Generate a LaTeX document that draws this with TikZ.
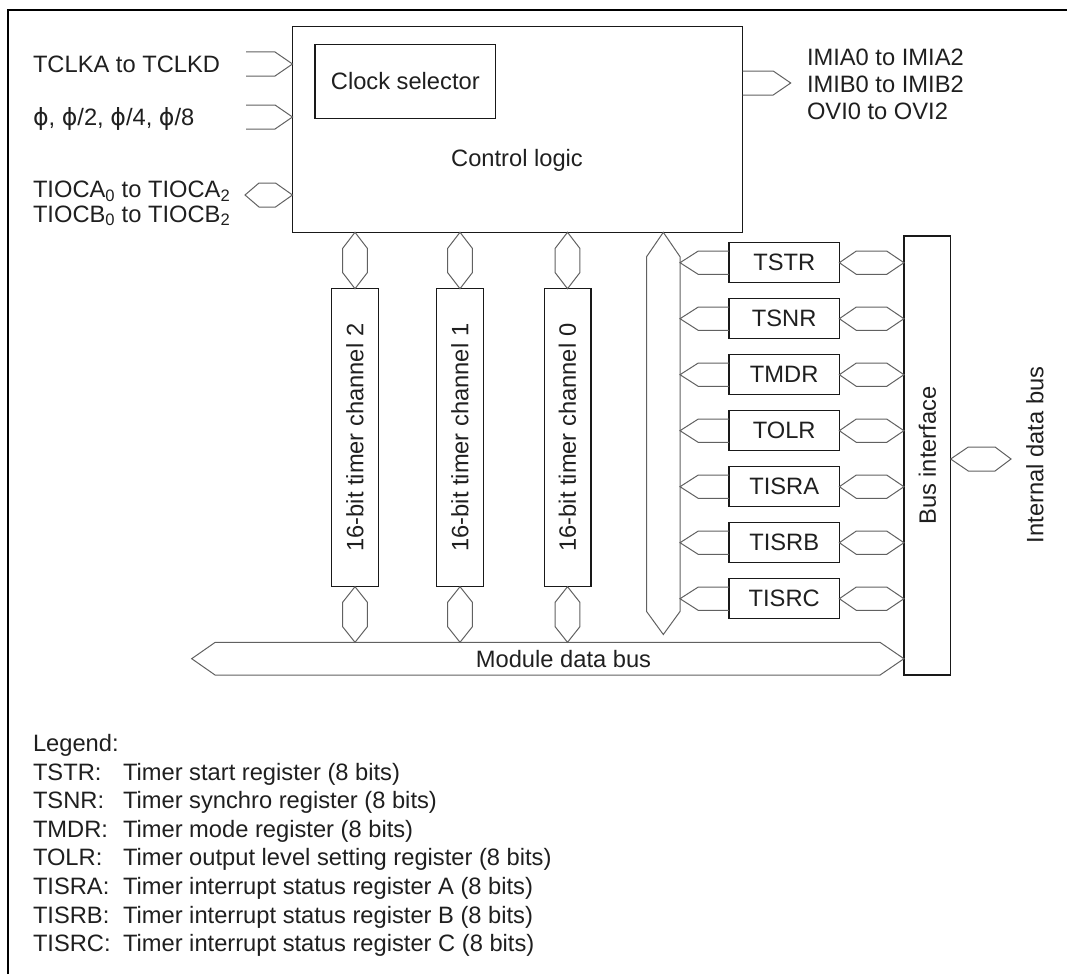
\documentclass[tikz,border=0pt]{standalone}
\usepackage{fontspec}
\setmainfont{Liberation Sans}
\newfontfamily\phifont{DejaVu Sans}
\usetikzlibrary{calc}
\newcommand\phs{{\phifont\char"03D5}}
% horizontal hexagon: left tip, right tip, half height, left tip length, right tip length
\newcommand\hhex[5]{\draw[conn] (#1) -- ($(#1)+(#4,-#3)$) -- ($(#2)+(-#5,-#3)$) -- (#2) -- ($(#2)+(-#5,#3)$) -- ($(#1)+(#4,#3)$) -- cycle;}
% vertical hexagon: top tip, bottom tip, half width, top length, bottom length
\newcommand\vhex[5]{\draw[conn] (#1) -- ($(#1)+(#3,#4)$) -- ($(#2)+(#3,-#5)$) -- (#2) -- ($(#2)+(-#3,-#5)$) -- ($(#1)+(-#3,#4)$) -- cycle;}
% open arrow pointing right: tail (centre), tip, half height, tip length
\newcommand\rarrow[4]{\draw[conn] ($(#1)+(0,-#3)$) -- ($(#2)+(-#4,-#3)$) -- (#2) -- ($(#2)+(-#4,#3)$) -- ($(#1)+(0,#3)$);}
% open arrow pointing left
\newcommand\larrow[4]{\draw[conn] ($(#1)+(0,-#3)$) -- ($(#2)+(#4,-#3)$) -- (#2) -- ($(#2)+(#4,#3)$) -- ($(#1)+(0,#3)$);}
\tikzset{
  txt/.style={inner sep=0pt, outer sep=0pt, text=black!88, font=\fontsize{23.7pt}{28pt}\selectfont},
  box/.style={txt, draw=black!90, line width=1.3pt, minimum width=#1},
  box/.default=10pt,
  conn/.style={draw=black!62, line width=1pt, line join=miter},
  frameline/.style={draw=black, line width=2.6pt},
}
\begin{document}
\begin{tikzpicture}[x=1pt, y=-1pt]
\useasboundingbox (0,0) rectangle (1067,974);
% frame
\coordinate (frBL) at (8,974);
\coordinate (frTL) at (8,10);
\coordinate (frTR) at (1067,10);
\draw[frameline] (frBL) -- (frTL) -- (frTR);

% main blocks
\node[box=450.2pt, minimum height=205.8pt] (ctrl) at (517.6,129.4) {};
\node[txt, anchor=base] (ctrllbl) at (517,166.5) {Control logic};
\node[box=180.7pt, minimum height=74pt] (clk) at (405.3,81.3) {Clock selector};

\node[box=46.7pt, minimum height=298pt] (ch2) at (355,437.7) {};
\node[box=46.7pt, minimum height=298pt] (ch1) at (460,437.7) {};
\node[box=46.7pt, minimum height=298pt] (ch0) at (567.5,437.7) {};
\node[txt, rotate=90] (ch2lbl) at (ch2) {16-bit timer channel 2};
\node[txt, rotate=90] (ch1lbl) at (ch1) {16-bit timer channel 1};
\node[txt, rotate=90] (ch0lbl) at (ch0) {16-bit timer channel 0};

\node[box=46.7pt, minimum height=439pt] (busif) at (927.3,455.5) {};
\node[txt, rotate=90] (busiflbl) at (busif) {Bus interface};

% inputs
\coordinate (tclkS) at (246,64);   \coordinate (tclkT) at (ctrl.west |- tclkS);
\coordinate (phiS) at (246,117);   \coordinate (phiT) at (ctrl.west |- phiS);
\coordinate (tiocS) at (245,195);  \coordinate (tiocT) at (ctrl.west |- tiocS);
\rarrow{tclkS}{tclkT}{12}{17.5}
\rarrow{phiS}{phiT}{12}{17.5}
\hhex{tiocS}{tiocT}{12}{14}{17}
\node[txt, anchor=base west] (tclklbl) at (33,72.7) {TCLKA to TCLKD};
\node[txt, anchor=base west] (philbl) at (33,125.5) {\phs, \phs/2, \phs/4, \phs/8};
\node[txt, anchor=base west] (tioclblA) at (33,197.5) {TIOCA\textsubscript{0} to TIOCA\textsubscript{2}};
\node[txt, anchor=base west] (tioclblB) at (33,222) {TIOCB\textsubscript{0} to TIOCB\textsubscript{2}};

% outputs
\coordinate (irqS) at (ctrl.east |- 0,83);
\coordinate (irqT) at (790.7,83);
\rarrow{irqS}{irqT}{12}{17.5}
\node[txt, anchor=base west] (irqA) at (807,66) {IMIA0 to IMIA2};
\node[txt, anchor=base west] (irqB) at (807,92.7) {IMIB0 to IMIB2};
\node[txt, anchor=base west] (irqC) at (807,119.3) {OVI0 to OVI2};

% module data bus
\coordinate (mbL) at (191.7,658.7);
\coordinate (mbR) at (busif.west |- mbL);
\hhex{mbL}{mbR}{16.4}{23.5}{24}
\node[txt, anchor=base] (mblbl) at (563.5,667) {Module data bus};

% channel connectors
\foreach \c in {ch2,ch1,ch0}{
  \coordinate (\c top) at (\c.north |- ctrl.south);
  \coordinate (\c bot) at (\c.south |- 0,642.3);
  \vhex{\c top}{\c.north}{12.3}{16}{16}
  \vhex{\c.south}{\c bot}{12.3}{15.5}{15.5}
}

% vertical register bus
\coordinate (vbT) at (ctrl.south -| 663.3,0);
\coordinate (vbB) at (663.3,634.5);
\vhex{vbT}{vbB}{16.7}{24.4}{23}

% registers
\foreach \n/\t [count=\i from 0] in {tstr/TSTR,tsnr/TSNR,tmdr/TMDR,tolr/TOLR,tisra/TISRA,tisrb/TISRB,tisrc/TISRC}{
  \node[box=110.3pt, minimum height=40pt] (\n) at (784.2,262.7+56*\i) {\t};
  \coordinate (\n L) at (\n.west -| 680,0);
  \coordinate (\n R) at (\n.east -| busif.west);
  \larrow{\n.west}{\n L}{11.7}{18.3}
  \hhex{\n.east}{\n R}{11.7}{17}{17.3}
}

% internal data bus
\coordinate (ibL) at (busif.east |- 0,459);
\coordinate (ibR) at (1011,459);
\hhex{ibL}{ibR}{12}{17.6}{16}
\node[txt, rotate=90] (iblbl) at (1035,455) {Internal data bus};

% legend
\node[txt, anchor=base west] (leghead) at (33,751.5) {Legend:};
\foreach \a/\b [count=\i] in {TSTR:/Timer start register (8 bits),
  TSNR:/Timer synchro register (8 bits),
  TMDR:/Timer mode register (8 bits),
  TOLR:/Timer output level setting register (8 bits),
  TISRA:/Timer interrupt status register A (8 bits),
  TISRB:/Timer interrupt status register B (8 bits),
  TISRC:/Timer interrupt status register C (8 bits)}{
  \node[txt, anchor=base west] (lgA\i) at (33,751.5+28.6*\i) {\a};
  \node[txt, anchor=base west] (lgB\i) at (123,751.5+28.6*\i) {\b};
}
\end{tikzpicture}
\end{document}
